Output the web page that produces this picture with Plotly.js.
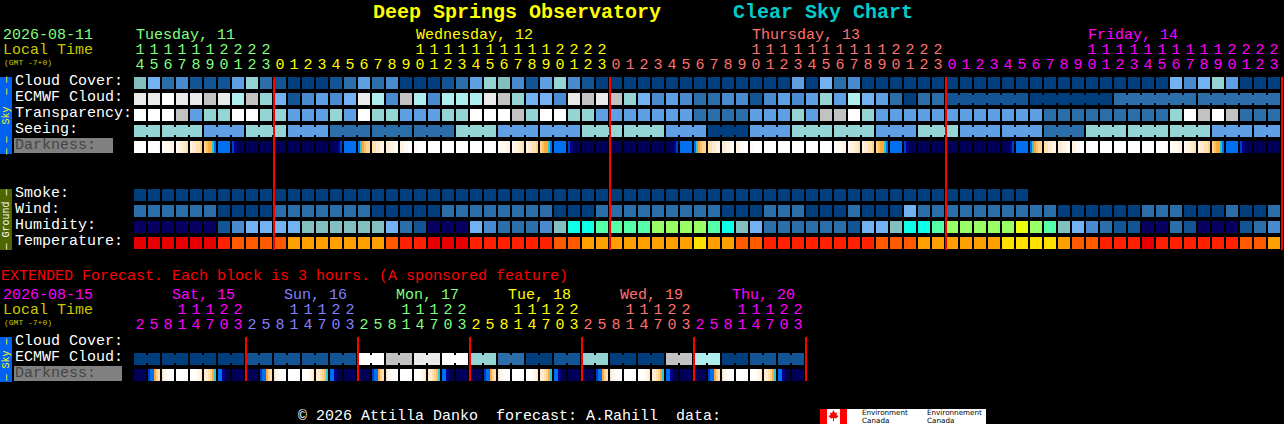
<!DOCTYPE html>
<html>
<head>
<meta charset="utf-8">
<script src="https://cdn.plot.ly/plotly-3.0.1.min.js"></script>
<style>html,body{margin:0;padding:0;background:#000;overflow:hidden}#chart{width:1284px;height:424px}</style>
</head>
<body>
<div id="chart"></div>
<script>
// ---- palettes (level -> colour) ----
const cloudPalette = ['#003E7E','#135594','#2C6EAA','#4A8AD0','#5F9FE3','#72B2F2','#82BFBF','#95D4D4','#AEEEEE','#C2C2C2','#EAEAEA','#FFFFFF'];
const humidityPalette = ['#080060','#135594','#2C6EAA','#4A8AD0','#72B2F2','#82BFBF','#0FFFE8','#55FFAA','#99FF66','#EAFF10'];
const temperaturePalette = ['#E60000','#FF2000','#FF5A00','#FFA000','#FFE000'];
const darknessPalette = ['#FFFFFF','#FFFAF2','#FFF3E2','#FFEBCF','#FFE0B0','#FFD28F','#FFBE60','#FFA838','#2EC4D8','#0070F0','#0040C8','#000098','#000070','#000058'];

// ---- main forecast (one value per hour) ----
const hoursMain = [14,15,16,17,18,19,20,21,22,23,
 0,1,2,3,4,5,6,7,8,9,10,11,12,13,14,15,16,17,18,19,20,21,22,23,
 0,1,2,3,4,5,6,7,8,9,10,11,12,13,14,15,16,17,18,19,20,21,22,23,
 0,1,2,3,4,5,6,7,8,9,10,11,12,13,14,15,16,17,18,19,20,21,22,23];
const hourDayMain = [0,0,0,0,0,0,0,0,0,0,
 1,1,1,1,1,1,1,1,1,1,1,1,1,1,1,1,1,1,1,1,1,1,1,1,
 2,2,2,2,2,2,2,2,2,2,2,2,2,2,2,2,2,2,2,2,2,2,2,2,
 3,3,3,3,3,3,3,3,3,3,3,3,3,3,3,3,3,3,3,3,3,3,3,3];
const dayColorsMain = ['#80FF80','#FFFF00','#FF7070','#FF00FF'];

const cloudCover = [6,5,2,3,1,1,1,4,7,2, 1,0,0,0,1,2,4,2,3,0,0,0,1,2,4,7,6,3,1,4,7,3,1,0,
 0,0,0,0,0,0,0,0,0,0,0,0,0,4,0,5,2,3,0,0,0,0,0,0,
 0,0,0,0,0,0,0,0,0,0,0,0,0,0,0,0,5,3,5,7,4,0,0,0];
const ecmwfCloud = [10,10,11,10,10,9,10,8,9,7, 5,1,3,4,3,5,10,8,3,9,8,3,8,8,8,10,9,7,5,5,3,10,9,10,
 9,7,5,3,4,3,2,2,3,3,1,3,4,3,4,7,4,8,5,4,2,0,2,2,
 1,1,1,1,1,1,0,0,0,0,0,0,2,2,2,2,2,2,2,2,2,2,2,2];
const ecmwfBlockLengths = [1,1,1,1,1,1,1,1,1,1,1,1,1,1,1,1,1,1,1,1,1,1,1,1,1,1,1,1,1,
 1,1,1,1,1,1,1,1,1,1,1,1,1,1,1,1,1,1,1,1,1,1,1,1,1,1,1,1,1,6,6,6,6];
const transparency = [11,11,11,9,4,7,7,11,11,7, 7,4,4,4,7,4,11,7,7,4,4,4,7,7,11,11,11,9,7,11,11,7,7,4,
 4,4,4,4,4,4,2,2,2,2,4,4,4,7,4,9,9,11,7,4,4,4,4,4,
 4,4,4,4,4,4,4,2,2,2,2,2,2,2,2,2,7,11,9,11,9,2,2,2];
const seeing = [7,7,7,7,7,4,4,4,7,7, 7,4,4,4,2,2,2,2,2,2,2,2,2,7,7,7,4,4,4,4,4,4,7,7,
 7,7,7,7,4,4,4,0,0,0,4,4,4,7,7,7,7,7,7,4,4,4,7,7,
 7,4,4,4,4,4,4,2,2,2,7,7,7,7,7,7,7,7,7,4,4,4,4,4];
const seeingBlockLengths = [2,3,3,3,3,3,3,3,3,3,3,3,3,3,3,3,3,3,3,3,3,3,3,3,3,3,3,2];
const darkness = ['000000','000001','011122','122334','233445','567789','999999','abcddd',
 'dddddd','dddddd','dddddd','dddddd','dddddd','dddddd','ddddba','999999','987655','443322','332211','221100','110000',
 '000000','000000','000000','000000','000001','011122','122334','233445','567789','999999','abcddd',
 'dddddd','dddddd','dddddd','dddddd','dddddd','dddddd','ddddba','999999','987655','443322','332211','221100','110000',
 '000000','000000','000000','000000','000001','011122','122334','233445','567789','999999','abcddd',
 'dddddd','dddddd','dddddd','dddddd','dddddd','dddddd','ddddba','999999','987655','443322','332211','221100','110000',
 '000000','000000','000000','000000','000001','011122','122334','233445','567789','999999','abcddd','dddddd','dddddd'];
const smoke = [0,0,0,0,0,0,0,0,0,0,0,0,0,0,0,0,0,0,0,0,0,0,0,0,0,0,0,0,0,0,0,0,0,0,
 0,0,0,0,0,0,0,0,0,0,0,0,0,0,0,0,0,0,0,0,0,0,0,0,0,0,0,0,0,0];
const wind = [2,2,2,2,2,2,0,0,0,0, 2,2,2,2,2,2,2,0,0,0,0,0,2,2,2,2,2,2,2,2,0,0,0,2,
 2,2,2,2,2,2,2,2,0,0,0,2,2,2,0,0,0,2,0,0,0,5,2,2,
 2,2,2,2,2,2,2,2,0,0,0,0,0,0,2,2,2,0,0,0,2,0,0,2];
const humidity = [0,0,0,0,0,0,1,3,4,4, 4,4,5,5,5,5,5,5,4,2,1,0,0,0,4,3,2,2,2,3,5,6,6,7,
 7,7,7,8,8,8,8,7,6,5,4,2,2,2,2,2,2,1,4,4,5,6,6,7,
 8,8,8,8,8,9,8,7,5,4,3,2,1,1,0,0,2,1,0,0,0,1,2,3];
const temperature = [0,0,0,0,0,0,1,2,2,2, 2,3,3,3,3,3,3,3,2,1,1,0,0,0,1,1,1,1,1,1,2,2,3,3,
 3,3,3,3,3,3,4,3,3,2,2,1,1,1,1,1,1,1,1,2,2,2,3,3,
 3,3,3,3,4,4,4,4,3,2,2,1,1,1,0,1,1,1,1,1,1,2,2,3];
const dayBoundariesMain = [10,34,58,82];

// ---- extended forecast (one value per 3 hours) ----
const hoursExt = [2,5,8,11,14,17,20,23, 2,5,8,11,14,17,20,23, 2,5,8,11,14,17,20,23,
 2,5,8,11,14,17,20,23, 2,5,8,11,14,17,20,23, 2,5,8,11,14,17,20,23];
const hourDayExt = [0,0,0,0,0,0,0,0, 1,1,1,1,1,1,1,1, 2,2,2,2,2,2,2,2,
 3,3,3,3,3,3,3,3, 4,4,4,4,4,4,4,4, 5,5,5,5,5,5,5,5];
const dayColorsExt = ['#FF00FF','#8080FF','#80FF80','#FFFF00','#FF7070','#FF00FF'];
const ecmwfExt = [0,0,0,0,0,0,0,0, 1,1,1,1,1,1,1,1, 11,11,9,9,10,10,11,11,
 7,7,2,2,0,0,1,1, 7,7,0,0,0,0,9,9, 8,8,0,0,1,1,1,1];
const ecmwfExtBlockLengths = [2,2,2,2,2,2,2,2,2,2,2,2,2,2,2,2,2,2,2,2,2,2,2,2];
const darknessExt = ['dddddd','a99754','321000','000000','000123','334578','99bcdd','dddddd',
 'dddddd','a99754','321000','000000','000123','334568','99bcdd','dddddd',
 'dddddd','a99754','321000','000000','000123','334568','99bcdd','dddddd',
 'dddddd','a99754','321000','000000','000123','334578','99bcdd','dddddd',
 'dddddd','a99754','321000','000000','000123','334578','99bcdd','dddddd',
 'dddddd','a99754','321000','000000','000123','334578','99bcdd','dddddd'];
const dayBoundariesExt = [8,16,24,32,40,48];

const skyLabels = ['Cloud Cover:','ECMWF Cloud:','Transparency:','Seeing:'];
const groundLabels = ['Smoke:','Wind:','Humidity:','Temperature:'];

// ---- scales: one hour column = 14px, one row = 16px ----
const W = 1284, H = 424;
const xOf = px => (px - 140) / 14;
const yOf = py => (py - 83) / 16;
const CELL = 3 / 7;

function colorscale(p){
  const n = p.length, out = [];
  p.forEach((c,k)=>{ out.push([k/n,c]); out.push([(k+1)/n,c]); });
  return out;
}
function base(p, x, y, z){
  return {type:'heatmap', x:x, y:y, z:[z], colorscale:colorscale(p), zmin:0, zmax:p.length,
          showscale:false, hoverinfo:'skip', zsmooth:false};
}
function rowTrace(values, p, centerPy){
  const x=[], z=[];
  values.forEach((v,i)=>{ x.push(i-CELL, i+CELL); z.push(v+0.5); if(i<values.length-1) z.push(null); });
  return base(p, x, [yOf(centerPy-6), yOf(centerPy+6)], z);
}
function bridgeTrace(values, blocks, p, centerPy){
  const x=[], z=[]; let start=0; const join={};
  blocks.forEach(len=>{ for(let j=0;j<len-1;j++) join[start+j]=true; start+=len; });
  values.forEach((v,i)=>{
    x.push(i-CELL, i+CELL);
    if(i<values.length-1){ z.push(null); z.push(join[i] ? v+0.5 : null); } else z.push(null);
  });
  return base(p, x, [yOf(centerPy-4), yOf(centerPy+4)], z);
}
function darkTrace(cells, centerPy){
  const x=[], z=[];
  cells.forEach((s,i)=>{
    for(let k=0;k<=6;k++) x.push(i-CELL+k/7);
    for(let k=0;k<6;k++) z.push(parseInt(s[k],16)+0.5);
    if(i<cells.length-1) z.push(null);
  });
  return base(darknessPalette, x, [yOf(centerPy-6), yOf(centerPy+6)], z);
}
const MONO = '"Liberation Mono", "DejaVu Sans Mono", monospace';
function digitTrace(hours, dayIdx, colors, tensPy, unitsPy){
  const xs=[],ys=[],t=[],c=[];
  hours.forEach((h,i)=>{
    if(h>=10){ xs.push(i); ys.push(yOf(tensPy)); t.push(String(Math.floor(h/10))); c.push(colors[dayIdx[i]]); }
    xs.push(i); ys.push(yOf(unitsPy)); t.push(String(h%10)); c.push(colors[dayIdx[i]]);
  });
  return {type:'scatter', mode:'text', x:xs, y:ys, text:t, hoverinfo:'skip', cliponaxis:false,
          textposition:'middle center', textfont:{family:MONO, size:15, color:c}, showlegend:false};
}

const traces = [
  rowTrace(cloudCover, cloudPalette, 83),
  rowTrace(ecmwfCloud, cloudPalette, 99),
  bridgeTrace(ecmwfCloud, ecmwfBlockLengths, cloudPalette, 99),
  rowTrace(transparency, cloudPalette, 115),
  rowTrace(seeing, cloudPalette, 131),
  bridgeTrace(seeing, seeingBlockLengths, cloudPalette, 131),
  darkTrace(darkness, 147),
  rowTrace(smoke, cloudPalette, 195),
  rowTrace(wind, cloudPalette, 211),
  rowTrace(humidity, humidityPalette, 227),
  rowTrace(temperature, temperaturePalette, 243),
  rowTrace(ecmwfExt, cloudPalette, 359),
  bridgeTrace(ecmwfExt, ecmwfExtBlockLengths, cloudPalette, 359),
  darkTrace(darknessExt, 375),
  digitTrace(hoursMain, hourDayMain, dayColorsMain, 50.4, 65.4),
  digitTrace(hoursExt, hourDayExt, dayColorsExt, 310.4, 325.4)
];

// ---- text ----
const ann = [];
function txt(s, px, py, color, size, extra){
  ann.push(Object.assign({text:s, xref:'paper', yref:'paper', x:(px-0.5)/W, y:1-(py+0.5)/H, showarrow:false,
    xanchor:'left', yanchor:'middle', borderpad:0, font:{family:MONO, size:size||15, color:color}}, extra||{}));
}
function rect(x0,y0,x1,y1,fill){
  return {type:'rect', xref:'paper', yref:'paper', x0:x0/W, x1:x1/W, y0:1-y0/H, y1:1-y1/H, fillcolor:fill, line:{width:0}, layer:'below'};
}
txt('<b>Deep Springs Observatory</b>', 372, 12, '#FFFF00', 20);
txt('<b>Clear Sky Chart</b>', 732, 12, '#00CCCC', 20);
txt('2026-08-11', 2, 35, '#80FF80');
txt('Local Time', 2, 50, '#C8C800');
txt('(GMT -7+0)', 3, 62, '#C8C800', 8);
txt('Tuesday, 11', 135, 35, dayColorsMain[0]);
txt('Wednesday, 12', 415, 35, dayColorsMain[1]);
txt('Thursday, 13', 751, 35, dayColorsMain[2]);
txt('Friday, 14', 1087, 35, dayColorsMain[3]);
skyLabels.forEach((s,i)=>txt(s, 14, 81+16*i, '#FFFFFF'));
txt('Darkness:', 14, 145, '#444444');
groundLabels.forEach((s,i)=>txt(s, 14, 193+16*i, '#FFFFFF'));
txt('EXTENDED Forecast. Each block is 3 hours. (A sponsored feature)', 0.5, 276, '#FF0000');
txt('2026-08-15', 2, 295, '#FF00FF');
txt('Local Time', 2, 310, '#C8C800');
txt('(GMT -7+0)', 3, 322, '#C8C800', 8);
['Sat, 15','Sun, 16','Mon, 17','Tue, 18','Wed, 19','Thu, 20'].forEach((s,i)=>txt(s, 171+112*i, 295, dayColorsExt[i]));
txt('Cloud Cover:', 14, 341, '#FFFFFF');
txt('ECMWF Cloud:', 14, 357, '#FFFFFF');
txt('Darkness:', 14, 373, '#444444');
txt('\u00A9 2026 Attilla Danko  forecast: A.Rahill  data:', 297, 415.5, '#FFFFFF');
const vert = {textangle:-90, xanchor:'center', yanchor:'middle'};
txt('\u2014 \u2014  Sky  \u2014 \u2014', 6.5, 115, '#FFFF00', 10, vert);
txt('\u2014 Ground \u2014', 6.5, 219, '#FFFFFF', 10, vert);
txt('\u2014 Sky \u2014', 6.5, 359, '#FFFF00', 10, vert);
const sans = '"DejaVu Sans", sans-serif';
[['Environment',861,412],['Canada',861,420.5],['Environnement',926,412],['Canada',926,420.5]].forEach(a=>{
  ann.push({text:a[0], xref:'paper', yref:'paper', x:a[1]/W, y:1-a[2]/H, showarrow:false, xanchor:'left', yanchor:'middle',
            borderpad:0, font:{family:sans, size:7.2, color:'#000000'}});
});

// ---- background rectangles, logo, day separators ----
const shapes = [
  rect(0,77,12,154,'#0060F0'),
  rect(0,189,12,250,'#4F6600'),
  rect(0,337,12,382,'#0060F0'),
  rect(14,138,113,153,'#808080'),
  rect(14,366,122,381,'#808080'),
  rect(820,409,986,424,'#FFFFFF'),
  rect(820,409,827,424,'#FF0000'),
  rect(840,409,847,424,'#FF0000')
];
const leaf = [[833.5,410],[835,413],[837,412.5],[836.5,415],[838.5,416],[836,418.5],[834,418],[834,421],[833,421],[833,418],[831,418.5],[828.5,416],[830.5,415],[830,412.5],[832,413]];
shapes.push({type:'path', xref:'paper', yref:'paper', fillcolor:'#FF0000', line:{width:0},
  path:'M'+leaf.map(p=>(p[0]/W).toFixed(5)+','+(1-p[1]/H).toFixed(5)).join('L')+'Z'});
const sep = (b,y0,y1)=>({type:'rect', xref:'x', yref:'y', x0:b-CELL-1/14, x1:b-CELL+1/14, y0:yOf(y0), y1:yOf(y1), fillcolor:'#FF0000', line:{width:0}});
dayBoundariesMain.forEach(b=>shapes.push(sep(b,77,250)));
dayBoundariesExt.forEach(b=>shapes.push(sep(b,337,381)));

const layout = {
  width:W, height:H, margin:{l:0,r:0,t:0,b:0,pad:0}, paper_bgcolor:'#000', plot_bgcolor:'#000', showlegend:false,
  xaxis:{visible:false, range:[xOf(0),xOf(W)], fixedrange:true},
  yaxis:{visible:false, range:[yOf(H),yOf(0)], fixedrange:true},
  annotations:ann, shapes:shapes
};
Plotly.newPlot('chart', traces, layout, {displayModeBar:false, staticPlot:true});
</script>
</body>
</html>
